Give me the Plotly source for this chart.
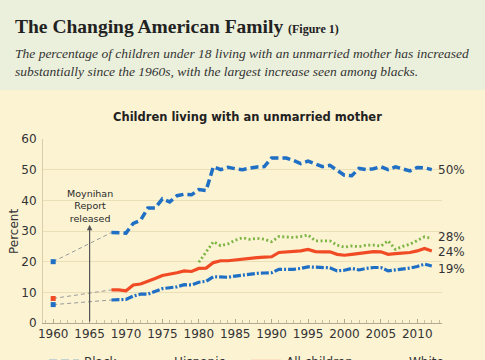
import plotly.graph_objects as go

# ---------------- data ----------------
years = list(range(1968, 2013))
hisp_years = list(range(1980, 2013))
year_1960 = 1960

black = [29.5, 29.5, 29.3, 32.5, 33.5, 37.5, 37.5, 40.5, 39.5, 41.5,
         42.0, 41.8, 43.5, 43.2, 51.0, 50.0, 50.8, 50.3, 50.0, 50.5,
         50.9, 51.0, 53.8, 53.8, 53.8, 53.0, 52.0, 52.8, 51.8, 51.0,
         51.4, 49.8, 48.2, 48.0, 50.4, 50.0, 50.3, 51.0, 50.0, 50.9,
         50.2, 49.6, 50.7, 50.6, 50.0]
all_children = [10.8, 10.8, 10.5, 12.4, 12.7, 13.5, 14.5, 15.5, 15.9, 16.4,
                17.0, 16.8, 17.8, 17.9, 19.7, 20.3, 20.3, 20.6, 20.8, 21.0,
                21.3, 21.5, 21.6, 23.0, 23.1, 23.2, 23.5, 24.0, 23.3, 23.2,
                23.2, 22.4, 22.1, 22.4, 22.7, 23.1, 23.3, 23.2, 22.4, 22.6,
                22.7, 23.0, 23.5, 24.3, 23.5]
white = [7.5, 7.7, 7.7, 8.8, 9.4, 9.4, 10.2, 11.2, 11.5, 11.8,
         12.5, 12.4, 13.3, 13.6, 15.1, 14.9, 14.9, 15.3, 15.6, 16.0,
         16.2, 16.3, 16.4, 17.5, 17.4, 17.5, 17.8, 18.3, 18.2, 18.1,
         18.0, 17.0, 17.2, 17.8, 17.3, 17.8, 18.1, 18.1, 17.0, 17.3,
         17.5, 17.9, 18.4, 19.2, 18.6]
hispanic = [19.8, 23.2, 26.5, 25.2, 25.8, 27.0, 27.8, 27.3, 27.6, 27.3,
            26.5, 28.2, 28.0, 27.9, 28.2, 28.7, 26.8, 26.8, 26.8, 25.4,
            24.7, 25.1, 24.9, 25.4, 25.4, 25.1, 26.8, 24.0, 25.0, 25.7,
            27.0, 28.1, 27.6]
val_1960 = {"Black": 20, "All children": 8, "White": 6}
end_labels = {"Black": "50%", "Hispanic": "28%", "All children": "24%", "White": "19%"}
y_ticks = [0, 10, 20, 30, 40, 50, 60]
x_ticks = list(range(1960, 2011, 5))
moynihan_year = 1965

BLUE = "#1f6fc5"
RED = "#f04b24"
GREEN = "#7db443"
GRAY_DASH = "#9a9a9a"
TXT = "#333333"
FONT = "DejaVu Sans"

W, H = 485, 360
ML, MR, MT, MB = 43, 43, 139, 37
PW, PH = W - ML - MR, H - MT - MB

def px_x(p):
    return (p - ML) / PW

def px_y(p):
    return (H - MB - p) / PH

fig = go.Figure()

# thin dashed connectors 1960 -> 1968
for name, series in [("Black", black), ("All children", all_children), ("White", white)]:
    fig.add_trace(go.Scatter(x=[year_1960, years[0]], y=[val_1960[name], series[0]],
                             mode="lines", line=dict(color=GRAY_DASH, width=1, dash="4px,3px"),
                             showlegend=False, hoverinfo="skip"))
    fig.add_trace(go.Scatter(x=[year_1960], y=[val_1960[name]], mode="markers",
                             marker=dict(symbol="square", size=5,
                                         color=RED if name == "All children" else BLUE),
                             showlegend=False, hoverinfo="skip"))

fig.add_trace(go.Scatter(x=years, y=black, name="Black", mode="lines", legend="legend",
                         line=dict(color=BLUE, width=3.5, dash="8px,4px")))
fig.add_trace(go.Scatter(x=hisp_years, y=hispanic, name="Hispanic", mode="lines", legend="legend2",
                         line=dict(color=GREEN, width=2.8, dash="2px,2.5px")))
fig.add_trace(go.Scatter(x=years, y=all_children, name="All children", mode="lines", legend="legend3",
                         line=dict(color=RED, width=3.2)))
fig.add_trace(go.Scatter(x=years, y=white, name="White", mode="lines", legend="legend4",
                         line=dict(color=BLUE, width=3.2, dash="8px,2px,2px,2px")))

# end labels
for name, yv, xv in [("Black", black[-1], years[-1]), ("Hispanic", hispanic[-1] + 0.6, hisp_years[-1]),
                     ("All children", all_children[-1] - 0.3, years[-1]), ("White", white[-1] - 0.9, years[-1])]:
    fig.add_annotation(x=xv, y=yv, text=end_labels[name], showarrow=False, xanchor="left",
                       xshift=4, font=dict(family=FONT, size=12, color=TXT))

# Moynihan arrow
fig.add_annotation(x=moynihan_year, y=32.0, ax=moynihan_year, ay=0, axref="x", ayref="y",
                   xref="x", yref="y", showarrow=True, arrowhead=2, arrowsize=0.9,
                   arrowwidth=1.2, arrowcolor="#555555", text="")
fig.add_annotation(x=moynihan_year, y=38.0, text="Moynihan<br>Report<br>released",
                   showarrow=False, yanchor="middle",
                   font=dict(family=FONT, size=9.5, color="#2a2a2a"))

# header band
fig.add_shape(type="rect", xref="paper", yref="paper", x0=px_x(0), x1=px_x(W),
              y0=px_y(90), y1=px_y(0), fillcolor="#ebf0dc", line=dict(width=0), layer="below")

fig.add_annotation(xref="paper", yref="paper", x=px_x(13), y=px_y(26), xanchor="left",
                   yanchor="middle", showarrow=False,
                   text="<b>The Changing American Family</b> <b><span style='font-size:12px'>(Figure 1)</span></b>",
                   font=dict(family="Liberation Serif", size=19.5, color="#222222"))
fig.add_annotation(xref="paper", yref="paper", x=px_x(13), y=px_y(62), xanchor="left",
                   yanchor="middle", showarrow=False, align="left",
                   text="<i>The percentage of children under 18 living with an unmarried mother has increased<br>substantially since the 1960s, with the largest increase seen among blacks.</i>",
                   font=dict(family="Liberation Serif", size=13.5, color="#333333"))
fig.add_annotation(xref="paper", yref="paper", x=px_x(247), y=px_y(117), xanchor="center",
                   yanchor="middle", showarrow=False,
                   text="<b>Children living with an unmarried mother</b>",
                   font=dict(family=FONT, size=11.5, color="#222222"))
# y-axis title
fig.add_annotation(xref="paper", yref="paper", x=px_x(14), y=px_y(232), xanchor="center",
                   yanchor="middle", showarrow=False, textangle=-90, text="Percent",
                   font=dict(family=FONT, size=12, color=TXT))

def legend_at(text_x):
    return dict(orientation="h", xref="container", yref="container",
                x=(text_x - 39) / W, y=(H - 347) / H, xanchor="left", yanchor="top",
                font=dict(family=FONT, size=12, color=TXT), bgcolor="rgba(0,0,0,0)")

fig.update_layout(
    width=W, height=H,
    margin=dict(l=ML, r=MR, t=MT, b=MB, pad=0, autoexpand=False),
    paper_bgcolor="#fcf3d3", plot_bgcolor="#fcf3d3",
    font=dict(family=FONT, size=12, color=TXT),
    showlegend=True,
    legend=legend_at(83), legend2=legend_at(173), legend3=legend_at(285), legend4=legend_at(408),
    xaxis=dict(range=[1958.6, 2013.4], tickvals=x_ticks, showgrid=False, zeroline=False,
               showline=True, linecolor="#b0a88f", linewidth=1, automargin=False,
               ticks="inside", ticklen=4, tickcolor="#b0a88f",
               minor=dict(dtick=1, ticks="inside", ticklen=3, tickcolor="#c8bfa3"),
               tickfont=dict(family=FONT, size=12, color=TXT), fixedrange=True),
    yaxis=dict(range=[0, 60], tickvals=y_ticks, showgrid=True, gridcolor="#ebdfb8",
               gridwidth=1, zeroline=False, showline=True, linecolor="#d8cda9",
               ticks="", ticklabelstandoff=3, automargin=False,
               tickfont=dict(family=FONT, size=12, color=TXT), fixedrange=True),
)

fig.write_html("out.html", post_script="document.body.style.margin='0';",
               config={"displayModeBar": False})
